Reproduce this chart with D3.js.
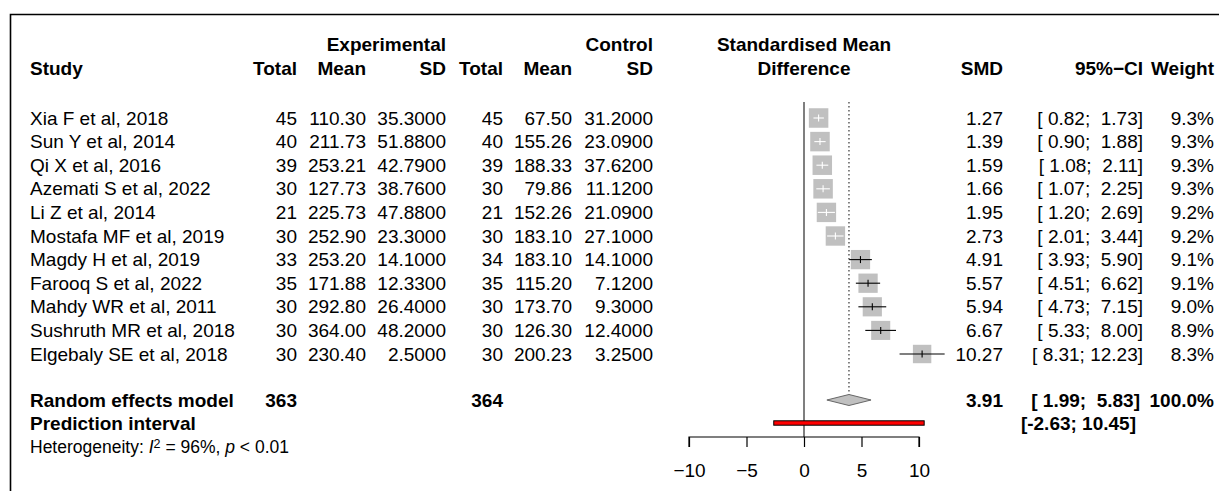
<!DOCTYPE html>
<html>
<head>
<meta charset="utf-8">
<script src="https://cdn.jsdelivr.net/npm/d3@7"></script>
<style>
  html, body { margin: 0; padding: 0; background: #fff; }
  svg { display: block; font-family: "Liberation Sans", Arial, sans-serif; }
  text { white-space: pre; fill: #000; }
</style>
</head>
<body>
<svg id="chart" width="1219" height="491"></svg>
<script>
// Study-level data
const studies = ["Xia F et al, 2018", "Sun Y et al, 2014", "Qi X et al, 2016", "Azemati S et al, 2022",
  "Li Z et al, 2014", "Mostafa MF et al, 2019", "Magdy H et al, 2019", "Farooq S et al, 2022",
  "Mahdy WR et al, 2011", "Sushruth MR et al, 2018", "Elgebaly SE et al, 2018"];
const expTotal = [45, 40, 39, 30, 21, 30, 33, 35, 30, 30, 30];
const expMean  = [110.30, 211.73, 253.21, 127.73, 225.73, 252.90, 253.20, 171.88, 292.80, 364.00, 230.40];
const expSD    = [35.3, 51.88, 42.79, 38.76, 47.88, 23.3, 14.1, 12.33, 26.4, 48.2, 2.5];
const ctlTotal = [45, 40, 39, 30, 21, 30, 34, 35, 30, 30, 30];
const ctlMean  = [67.50, 155.26, 188.33, 79.86, 152.26, 183.10, 183.10, 115.20, 173.70, 126.30, 200.23];
const ctlSD    = [31.2, 23.09, 37.62, 11.12, 21.09, 27.1, 14.1, 7.12, 9.3, 12.4, 3.25];
const smd      = [1.27, 1.39, 1.59, 1.66, 1.95, 2.73, 4.91, 5.57, 5.94, 6.67, 10.27];
const ciLower  = [0.82, 0.90, 1.08, 1.07, 1.20, 2.01, 3.93, 4.51, 4.73, 5.33, 8.31];
const ciUpper  = [1.73, 1.88, 2.11, 2.25, 2.69, 3.44, 5.90, 6.62, 7.15, 8.00, 12.23];
const weights  = [9.3, 9.3, 9.3, 9.3, 9.2, 9.2, 9.1, 9.1, 9.0, 8.9, 8.3];

// Pooled results
const pooledTotals = [363, 364];
const pooled = [3.91, 1.99, 5.83];          // estimate, lower, upper
const prediction = [-2.63, 10.45];
const heterogeneityI2 = 96;
const axisTicks = [-10, -5, 0, 5, 10];

const svg = d3.select("#chart");
const FS = 19, FSB = 19;

// frame
svg.append("path").attr("d", "M10.5,491 V14.5 H1219")
  .attr("fill", "none").attr("stroke", "#000").attr("stroke-width", 1.6);

const x = d3.scaleLinear().domain([-10, 10]).range([689, 919]);
const rowY = d3.scaleLinear().domain([0, 10]).range([118, 354]);
const yPooled = 400, yPred = 423, yHet = 447, yAxis = 437;

const col = { study: 30, eT: 297, eM: 366, eS: 446, cT: 503, cM: 572, cS: 653,
  smd: 1003, ci: 1143, w: 1214 };

function txt(xp, yc, s, anchor, bold, size) {
  return svg.append("text").attr("x", xp).attr("y", yc).attr("dy", "0.35em")
    .attr("text-anchor", anchor || "start")
    .attr("font-size", size || (bold ? FSB : FS))
    .attr("font-weight", bold ? "bold" : "normal")
    .text(s);
}
const pad = (v) => v.toFixed(2).padStart(5, " ");
const ciText = (lo, hi) => "[" + pad(lo) + "; " + pad(hi) + "]";

// headers
txt(col.eS, 44, "Experimental", "end", true);
txt(col.cS, 44, "Control", "end", true);
txt(x(0), 44, "Standardised Mean", "middle", true);
txt(col.study, 68, "Study", "start", true);
txt(col.eT, 68, "Total", "end", true);
txt(col.eM, 68, "Mean", "end", true);
txt(col.eS, 68, "SD", "end", true);
txt(col.cT, 68, "Total", "end", true);
txt(col.cM, 68, "Mean", "end", true);
txt(col.cS, 68, "SD", "end", true);
txt(x(0), 68, "Difference", "middle", true);
txt(col.smd, 68, "SMD", "end", true);
txt(col.ci, 68, "95%\u2212CI", "end", true);
txt(col.w, 68, "Weight", "end", true);

// study rows
studies.forEach((s, i) => {
  const y = rowY(i);
  txt(col.study, y, s);
  txt(col.eT, y, String(expTotal[i]), "end");
  txt(col.eM, y, expMean[i].toFixed(2), "end");
  txt(col.eS, y, expSD[i].toFixed(4), "end");
  txt(col.cT, y, String(ctlTotal[i]), "end");
  txt(col.cM, y, ctlMean[i].toFixed(2), "end");
  txt(col.cS, y, ctlSD[i].toFixed(4), "end");
  txt(col.smd, y, smd[i].toFixed(2), "end");
  txt(col.ci, y, ciText(ciLower[i], ciUpper[i]), "end");
  txt(col.w, y, weights[i].toFixed(1) + "%", "end");
});

// pooled rows
txt(col.study, yPooled, "Random effects model", "start", true);
txt(col.eT, yPooled, String(pooledTotals[0]), "end", true);
txt(col.cT, yPooled, String(pooledTotals[1]), "end", true);
txt(col.smd, yPooled, pooled[0].toFixed(2), "end", true);
txt(col.ci - 3, yPooled, ciText(pooled[1], pooled[2]), "end", true);
txt(col.w, yPooled, "100.0%", "end", true);
txt(col.study, yPred, "Prediction interval", "start", true);
txt(col.ci - 7, yPred, "[" + prediction[0].toFixed(2) + "; " + prediction[1].toFixed(2) + "]", "end", true);

const het = svg.append("text").attr("x", col.study).attr("y", yHet).attr("dy", "0.35em")
  .attr("font-size", 17.5);
het.append("tspan").text("Heterogeneity: ");
het.append("tspan").attr("font-style", "italic").text("I");
het.append("tspan").attr("dy", -5).attr("font-size", 12.5).text("2");
het.append("tspan").attr("dy", 5).text(" = " + heterogeneityI2 + "%, ");
het.append("tspan").attr("font-style", "italic").text("p");
het.append("tspan").text(" < 0.01");

// reference lines
const yTop = 102;
svg.append("line").attr("x1", x(0)).attr("x2", x(0)).attr("y1", yTop).attr("y2", yAxis)
  .attr("stroke", "#555").attr("stroke-width", 1.5);
svg.append("line").attr("x1", x(pooled[0])).attr("x2", x(pooled[0])).attr("y1", yTop).attr("y2", yPooled - 5.5)
  .attr("stroke", "#444").attr("stroke-width", 1.3).attr("stroke-dasharray", "1.5,2.5");

// study squares and confidence intervals
const side = d3.scaleSqrt().domain([0, d3.max(weights)]).range([0, 19.5]);
studies.forEach((s, i) => {
  const y = rowY(i), w = side(weights[i]);
  const inside = (x(ciUpper[i]) - x(ciLower[i])) < w;
  svg.append("rect").attr("x", x(smd[i]) - w / 2).attr("y", y - w / 2)
    .attr("width", w).attr("height", w).attr("fill", "#c0c0c0");
  const c = inside ? "#fff" : "#000";
  svg.append("line").attr("x1", x(ciLower[i])).attr("x2", x(ciUpper[i])).attr("y1", y).attr("y2", y)
    .attr("stroke", c).attr("stroke-width", 1.1);
  svg.append("line").attr("x1", x(smd[i])).attr("x2", x(smd[i])).attr("y1", y - 3.5).attr("y2", y + 3.5)
    .attr("stroke", c).attr("stroke-width", 1.1);
});

// pooled diamond
svg.append("path")
  .attr("d", `M${x(pooled[1])},${yPooled} L${x(pooled[0])},${yPooled - 5.5} L${x(pooled[2])},${yPooled} L${x(pooled[0])},${yPooled + 5.5} Z`)
  .attr("fill", "#c0c0c0").attr("stroke", "#666").attr("stroke-width", 1);

// prediction interval bar
svg.append("rect").attr("x", x(prediction[0])).attr("y", yPred - 2.2)
  .attr("width", x(prediction[1]) - x(prediction[0])).attr("height", 4.4)
  .attr("fill", "#ff0000").attr("stroke", "#000").attr("stroke-width", 1);

// x axis
const axisG = svg.append("g").attr("transform", `translate(0,${yAxis})`)
  .call(d3.axisBottom(x).tickValues(axisTicks).tickSize(10).tickPadding(17)
    .tickFormat(d => d < 0 ? "\u2212" + Math.abs(d) : String(d)));
axisG.select(".domain").attr("stroke", "#000").attr("stroke-width", 1.2).attr("d", `M${x(-10)},10V0H${x(10)}V10`);
axisG.selectAll(".tick line").attr("stroke", "#000").attr("stroke-width", 1.2);
axisG.selectAll(".tick text").attr("font-size", FS).attr("font-family", "Liberation Sans, Arial, sans-serif").attr("fill", "#000");
</script>
</body>
</html>
